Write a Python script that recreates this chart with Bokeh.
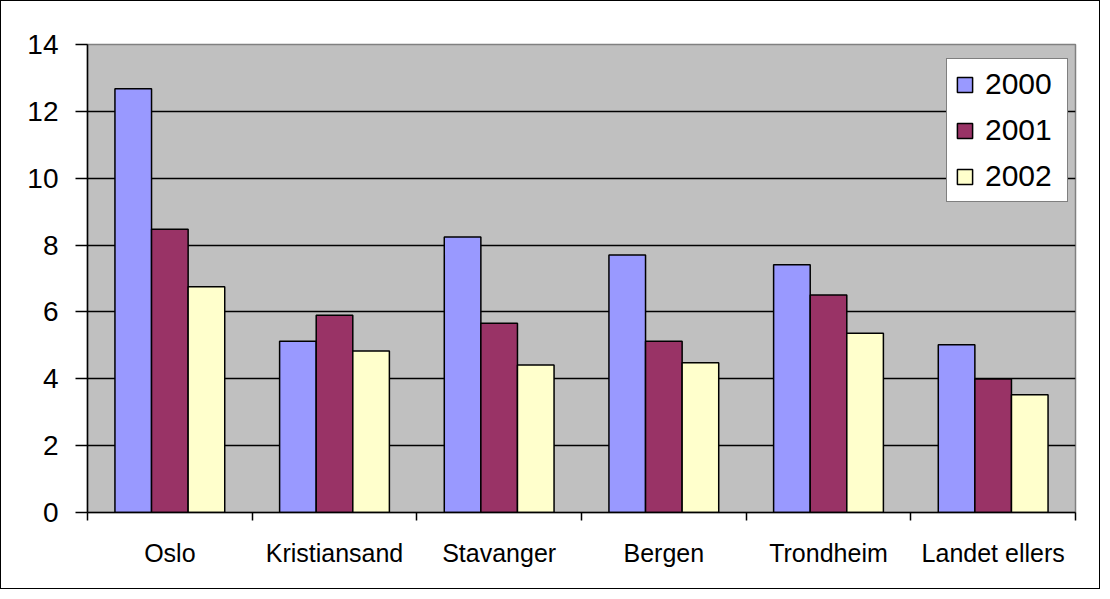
from bokeh.plotting import figure
from bokeh.models import ColumnDataSource, Range1d, FixedTicker, Legend, LegendItem
from bokeh.embed import file_html
from bokeh.resources import INLINE

categories = ["Oslo", "Kristiansand", "Stavanger", "Bergen", "Trondheim", "Landet ellers"]
years = ["2000", "2001", "2002"]
v2000 = [12.68, 5.12, 8.24, 7.70, 7.41, 5.02]
v2001 = [8.47, 5.90, 5.66, 5.12, 6.51, 3.99]
v2002 = [6.75, 4.83, 4.41, 4.48, 5.36, 3.52]
y_ticks = [0, 2, 4, 6, 8, 10, 12, 14]

colors = ["#9999FF", "#993366", "#FFFFCC"]
series = [v2000, v2001, v2002]

FONT = "Liberation Sans"

p = figure(width=1100, height=589, output_backend="svg", toolbar_location=None,
           x_range=Range1d(0, len(categories)), y_range=Range1d(0, 14),
           min_border_left=86, min_border_top=43, min_border_right=26, min_border_bottom=78)
p.styles = {"border": "1.5px solid black"}
p.background_fill_color = "#C0C0C0"
p.border_fill_color = "white"
p.outline_line_color = "#808080"
p.outline_line_width = 1.5

bar_w = 1 / 4.5
items = []
for k, (yr, vals, col) in enumerate(zip(years, series, colors)):
    xs = [i + 0.5 + (k - 1) * bar_w for i in range(len(categories))]
    src = ColumnDataSource(dict(x=xs, top=vals))
    r = p.vbar(x="x", top="top", bottom=0, width=bar_w, source=src,
               fill_color=col, line_color="black", line_width=1.5)
    items.append(LegendItem(label=yr, renderers=[r]))

# axes
p.xaxis.ticker = FixedTicker(ticks=[i + 0.5 for i in range(len(categories))],
                             minor_ticks=list(range(len(categories) + 1)))
p.xaxis.major_label_overrides = {i + 0.5: c for i, c in enumerate(categories)}
p.xaxis.major_tick_out = 0
p.xaxis.major_tick_in = 0
p.xaxis.minor_tick_out = 8
p.xaxis.minor_tick_in = 0
p.xaxis.minor_tick_line_color = "black"
p.xaxis.minor_tick_line_width = 1.5
p.xaxis.major_label_standoff = 18
p.xaxis.major_label_text_font = FONT
p.xaxis.major_label_text_font_size = "25px"
p.xaxis.major_label_text_color = "black"

p.yaxis.ticker = FixedTicker(ticks=y_ticks)
p.yaxis.major_tick_out = 12
p.yaxis.major_tick_in = 0
p.yaxis.minor_tick_line_color = None
p.yaxis.major_tick_line_width = 1.5
p.yaxis.major_label_standoff = 17
p.yaxis.major_label_text_font = FONT
p.yaxis.major_label_text_font_size = "28px"
p.yaxis.major_label_text_color = "black"

for ax in (p.xaxis, p.yaxis):
    ax.axis_line_color = "black"
    ax.axis_line_width = 1.5
    ax.major_tick_line_color = "black"

p.xgrid.grid_line_color = None
p.ygrid.grid_line_color = "black"
p.ygrid.grid_line_width = 1.5
p.ygrid.ticker = FixedTicker(ticks=y_ticks)

legend = Legend(items=items, location=(859, 310), orientation="vertical",
                label_text_font=FONT, label_text_font_size="30px",
                label_text_color="black",
                glyph_width=19, glyph_height=19, label_standoff=11, label_width=74,
                padding=8, spacing=12, margin=0,
                border_line_color="black", border_line_width=1.5,
                background_fill_color="white", background_fill_alpha=1.0)
p.add_layout(legend, "center")

open("out.html", "w").write(file_html(p, INLINE))
